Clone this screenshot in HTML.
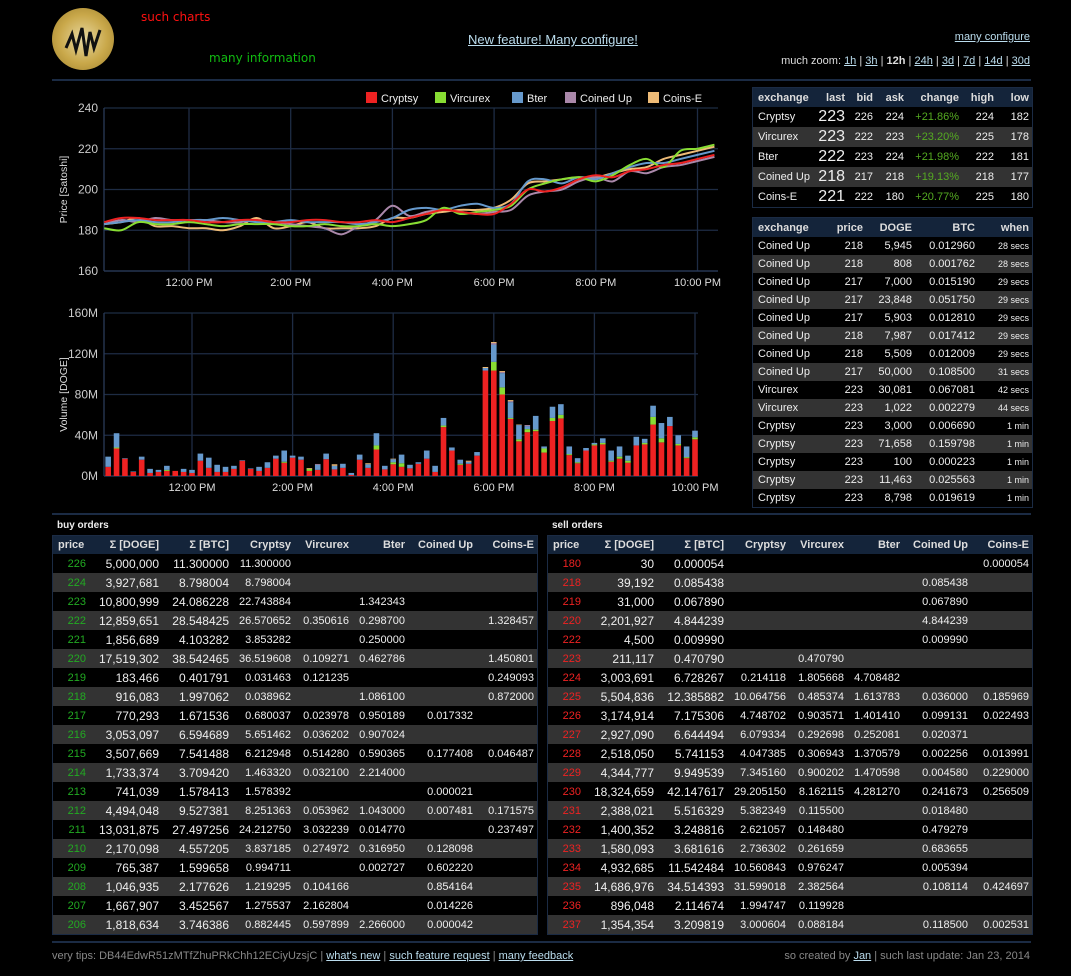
<!DOCTYPE html>
<html><head><meta charset="utf-8">
<style>
body{margin:0;background:#000;width:1071px;height:976px;overflow:hidden;position:relative;font-family:"Liberation Sans",Arial,sans-serif;color:#eee}
a{color:#bde;text-decoration:underline}
.abs{position:absolute}
.hr{position:absolute;left:52px;width:979px;height:2px;background:#1b2b44}
table{border-collapse:collapse;table-layout:fixed;font-size:11px}
td,th{padding:0 3px;white-space:nowrap;overflow:hidden;text-align:right}
th{background:#14243a;color:#ddd;font-weight:bold}
tr.alt td{background:#333}
.ot{position:absolute;border:1px solid #1b2b44;top:535px}
.ot th{height:18px}
.ot td{height:19px;padding:0 3px}
.rt{position:absolute;left:752px;border:1px solid #1b2b44;width:279px}
</style></head><body>

<div class="abs" style="left:52px;top:8px;width:62px;height:62px;border-radius:50%;background:radial-gradient(circle,#e8d8a0 0,#c9a84a 55%,#9c7d2a 100%)">
<svg width="62" height="62"><path d="M14 40 L20 26 L24 42 L30 20 L34 48 L38 24 L42 40 L48 22" stroke="#111" stroke-width="3" fill="none"/></svg></div>
<div class="abs" style="left:141px;top:10px;color:#f11;font-size:12px;font-family:'DejaVu Sans',sans-serif">such charts</div>
<div class="abs" style="left:209px;top:51px;color:#1b1;font-size:12px;font-family:'DejaVu Sans',sans-serif">many information</div>
<a class="abs" style="left:468px;top:32px;font-size:13px">New feature! Many configure!</a>
<a class="abs" style="right:41px;top:31px;font-size:11px">many configure</a>
<div class="abs" style="right:41px;top:55px;font-size:11px;color:#ddd">much zoom: <a>1h</a> | <a>3h</a> | <b>12h</b> | <a>24h</a> | <a>3d</a> | <a>7d</a> | <a>14d</a> | <a>30d</a></div>
<div class="hr" style="top:79px"></div>
<div class="hr" style="top:513px"></div>
<div class="hr" style="top:941px"></div>

<svg id="charts" class="abs" style="left:0;top:0" width="740" height="510" font-family="Liberation Sans, Arial, sans-serif"></svg>

<table class="rt" style="top:87px" id="tickerT"></table>
<table class="rt" style="top:217px" id="tradesT"></table>

<div class="abs" style="left:57px;top:520px;font-size:10px;font-weight:bold">buy orders</div>
<div class="abs" style="left:552px;top:520px;font-size:10px;font-weight:bold">sell orders</div>
<table class="ot" id="buyT" style="left:52px;width:484px"></table>
<table class="ot" id="sellT" style="left:547px;width:484px"></table>

<div class="abs" style="left:52px;top:950px;font-size:11px;color:#888">very tips: DB44EdwR51zMTfZhuPRkChh12ECiyUzsjC | <a>what's new</a> | <a>such feature request</a> | <a>many feedback</a></div>
<div class="abs" style="right:41px;top:950px;font-size:11px;color:#888">so created by <a>Jan</a> | such last update: Jan 23, 2014</div>

<script>
// ---- chart data ----
const seriesNames=["Cryptsy","Vircurex","Bter","Coined Up","Coins-E"];
const seriesColors=["#ee2222","#88dd33","#6699cc","#aa88aa","#eebb77"];
const priceTicks=[160,180,200,220,240];
const volTicks=[0,40,80,120,160];
const timeTicks=[12,14,16,18,20,22];
const timeLabels=["12:00 PM","2:00 PM","4:00 PM","6:00 PM","8:00 PM","10:00 PM"];
const priceCryptsy=[184,186,186,185,185,185,184,184,185,185,184,184,185,185,184,184,185,184,186,188,190,189,188,188,193,200,199,201,205,207,206,209,210,212,213,215,217];
const priceVircurex=[181,180,184,183,183,184,183,182,183,183,183,182,182,183,182,182,183,182,183,185,191,188,189,190,192,200,203,205,206,204,207,212,215,211,219,220,222];
const priceBter=[183,184,185,184,184,185,185,186,185,184,184,185,184,184,184,183,184,186,190,191,190,192,193,191,193,204,205,203,206,205,208,211,213,213,215,217,219];
const priceCoinedUp=[183,185,184,186,185,185,185,184,184,185,184,183,182,181,178,182,185,192,187,189,190,189,188,189,190,197,199,200,204,206,204,209,208,211,212,214,216];
const priceCoinsE=[183,184,186,182,182,181,181,180,182,186,181,182,184,181,181,181,182,186,186,188,189,190,190,191,195,203,204,205,206,206,208,210,211,215,217,219,221];
const volCryptsy=[9,27,17,4,16,3,4,5,5,4,3,15,8,4,4,7,15,7,5,8,17,13,18,16,5,6,16.5,6.5,8,1,16,8,26,6.5,11.5,9,7.5,12,17,4,48,25,11,12,20,103.5,103.5,80,56,34,43,44,23,54,56.5,20.5,12.5,25,30,31,14,17,13,30,31,50.5,33,49,30,17.5,36];
const volVircurex=[0,1,0,0,0,0,0,1,0,0,0,0,0,0,0,0,0,0,0,0,0,1,0,0,2,0,0,0,0,0,0,0,4,0,2,3.5,0,0,0,0,1.5,0,1,0,0,0,8.5,7,1,2,3,1.5,4,3,3.5,1,1,0,1,1.5,1,2,2,0,1.5,7.5,4,0,1.5,1,2];
const volBter=[10,14,0.5,0.5,3,4,2,4,0,3,3,7,10,7,5,3,0.5,0.5,4,5.5,3,11,2,3,0,5,5.5,3.5,4,2,5,3.5,12,3.5,3,8.5,3.5,1.5,8,6,7.5,3,4,2,3.5,2.5,17,14,15.5,14,3,13.5,2,11,10.5,7.5,4,2.5,1.5,4.5,10,10,5,8.5,4,11,15,9,8.5,10.5,6.5];
const volCoinedUp=[0,0,0,0,0,0,0,0,0,0,0,0,0,0,0,0,0,0,0,0,0,0,0,0,0,0.8,0,0,0,0,0,0,0,0,0,0,0,0,0,0,0,0,0,0,0,0,1.5,1,1,0,1,0,0,0,0,0,0,0,0,0,0,0,0,0,0,0,0,0,0,0,0];
const volCoinsE=[0,0,0,0,0,0,0,0,0,0,0,0,0,0,0,0,0,0,0,0,0,0,0,0,0.8,0,0,1.5,0,0,0,1,0,0,0.5,0,0,0,0,0,0,0,0,1,0,1,1,1,1,0.5,0,0,0,0,0,0,0,0,0,0,0,0,0,0,0,0,0,0,0,0,0];

const NS="http://www.w3.org/2000/svg";
const svg=document.getElementById('charts');
function mk(tag,attrs,parent){const e=document.createElementNS(NS,tag);for(const k in attrs)e.setAttribute(k,attrs[k]);(parent||svg).appendChild(e);return e;}

// price axes
const pL=104,pR=718,pT=108,pB=271;
const px=h=>189+(h-12)*50.85;
const py=v=>pB-(v-160)/80*(pB-pT);
// volume axes
const vL=104,vR=698,vT=313,vB=476;
const vx=h=>192+(h-12)*50.3;
const vy=v=>vB-v/160*(vB-vT);

function grid(L,R,T,B,xf,yf,yt,fmt,title,nm){
  const g=mk('g',{});
  
  
  yt.forEach(t=>{
    mk('line',{x1:L,x2:R,y1:yf(t),y2:yf(t),stroke:'#1e2c44','stroke-width':1.3},g);
    const tx=mk('text',{x:L-6,y:yf(t)+4,'text-anchor':'end','font-size':12,fill:'#ccc'});
    tx.textContent=fmt(t);
    
    
  });
  timeTicks.forEach((t,i)=>{
    mk('line',{x1:xf(t),x2:xf(t),y1:T,y2:B,stroke:'#1e2c44','stroke-width':1.3},g);
    const tx=mk('text',{x:xf(t),y:B+15,'text-anchor':'middle','font-size':11,fill:'#ddd'});
    tx.textContent=timeLabels[i];
    
    
  });
  mk('line',{x1:L,x2:L,y1:T,y2:B,stroke:'#2a3a58','stroke-width':1.3},g);
  mk('line',{x1:L,x2:R,y1:B,y2:B,stroke:'#2a3a58','stroke-width':1.3},g);
  const yt2=mk('text',{x:0,y:0,transform:`translate(67,${(T+B)/2}) rotate(-90)`,'text-anchor':'middle','font-size':10.5,fill:'#ddd'});
  yt2.textContent=title;
  
  
}
grid(pL,pR,pT,pB,px,py,priceTicks,t=>t,'Price [Satoshi]','price');
grid(vL,vR,vT,vB,vx,vy,volTicks,t=>t+'M','Volume [DOGE]','volume');

// price lines (catmull-rom)
const priceSeries=[priceCryptsy,priceVircurex,priceBter,priceCoinedUp,priceCoinsE];
[4,3,2,1,0].forEach(s=>{
  const pts=priceSeries[s].map((v,i)=>[px(10+1/3+i/3),py(v)]);
  let d='M'+pts[0][0]+','+pts[0][1];
  for(let i=0;i<pts.length-1;i++){
    const p0=pts[Math.max(0,i-1)],p1=pts[i],p2=pts[i+1],p3=pts[Math.min(pts.length-1,i+2)];
    d+=` C${p1[0]+(p2[0]-p0[0])/6},${p1[1]+(p2[1]-p0[1])/6} ${p2[0]-(p3[0]-p1[0])/6},${p2[1]-(p3[1]-p1[1])/6} ${p2[0]},${p2[1]}`;
  }
  const p=mk('path',{d:d,fill:'none',stroke:seriesColors[s],'stroke-width':2});
  
  
});

// legend
const legX=[366,435,512,565,648];
seriesNames.forEach((n,i)=>{
  const r=mk('rect',{x:legX[i],y:92,width:11,height:11,fill:seriesColors[i]});
  
  
  const t=mk('text',{x:legX[i]+15,y:102,'font-size':11,fill:'#eee'});
  t.textContent=n;
  
  
});

// volume bars
const volSeries=[volCryptsy,volVircurex,volBter,volCoinedUp,volCoinsE];
volCryptsy.forEach((_,i)=>{
  const cx=vx(10+1/3+i/6);
  let base=0;
  volSeries.forEach((arr,s)=>{
    const v=arr[i]; if(!v)return;
    const r=mk('rect',{x:cx-2.8,y:vy(base+v),width:5.6,height:vy(base)-vy(base+v),fill:seriesColors[s]});
    
    
    base+=v;
  });
});

// ---- tables ----
function build(id,head,rows,opts){
  const t=document.getElementById(id);
  let h='<tr>'+head.map((c,i)=>`<th style="width:${opts.w[i]-(i==0?8:6)}px;${i==0?'text-align:left;padding-left:5px':''}">${c}</th>`).join('')+'</tr>';
  rows.forEach((r,ri)=>{
    const c=r.split('|');
    h+=`<tr class="${ri%2?'alt':''}">`+c.map((v,i)=>{
      let st='';
      if(i==0)st='text-align:'+(opts.firstLeft?'left;padding-left:5px':'right')+(opts.pc?';color:'+opts.pc:'');
      if(opts.style&&opts.style[i])st+=';'+opts.style[i];
      return `<td style="${st}">${v}</td>`;}).join('')+'</tr>';
  });
  t.innerHTML=h;
  t.querySelectorAll('tr').forEach((tr,i)=>{
    
    
  });
}
build('tickerT',['exchange','last','bid','ask','change','high','low'],[
'Cryptsy|223|226|224|+21.86%|224|182','Vircurex|223|222|223|+23.20%|225|178','Bter|222|223|224|+21.98%|222|181','Coined Up|218|217|218|+19.13%|218|177','Coins-E|221|222|180|+20.77%|225|180'],
{firstLeft:1,w:[62,33,28,31,55,35,35],style:{1:'font-size:16px',4:'color:#55aa22'}});
document.querySelectorAll('#tickerT td').forEach(td=>td.style.height='20px');
document.querySelectorAll('#tickerT th').forEach(th=>th.style.height='19px');
build('tradesT',['exchange','price','DOGE','BTC','when'],[
'Coined Up|218|5,945|0.012960|28 secs','Coined Up|218|808|0.001762|28 secs','Coined Up|217|7,000|0.015190|29 secs','Coined Up|217|23,848|0.051750|29 secs','Coined Up|217|5,903|0.012810|29 secs','Coined Up|218|7,987|0.017412|29 secs','Coined Up|218|5,509|0.012009|29 secs','Coined Up|217|50,000|0.108500|31 secs','Vircurex|223|30,081|0.067081|42 secs','Vircurex|223|1,022|0.002279|44 secs','Cryptsy|223|3,000|0.006690|1 min','Cryptsy|223|71,658|0.159798|1 min','Cryptsy|223|100|0.000223|1 min','Cryptsy|223|11,463|0.025563|1 min','Cryptsy|223|8,798|0.019619|1 min'],
{firstLeft:1,w:[68,45,49,63,54],style:{4:'font-size:9px'}});
document.querySelectorAll('#tradesT td').forEach(td=>td.style.height='18px');
document.querySelectorAll('#tradesT th').forEach(th=>th.style.height='19px');

const ow=[36,73,70,62,58,56,68,61];
const oh=['price','Σ [DOGE]','Σ [BTC]','Cryptsy','Vircurex','Bter','Coined Up','Coins-E'];
build('buyT',oh,[
'226|5,000,000|11.300000|11.300000||||','224|3,927,681|8.798004|8.798004||||','223|10,800,999|24.086228|22.743884||1.342343||','222|12,859,651|28.548425|26.570652|0.350616|0.298700||1.328457','221|1,856,689|4.103282|3.853282||0.250000||','220|17,519,302|38.542465|36.519608|0.109271|0.462786||1.450801','219|183,466|0.401791|0.031463|0.121235|||0.249093','218|916,083|1.997062|0.038962||1.086100||0.872000','217|770,293|1.671536|0.680037|0.023978|0.950189|0.017332|','216|3,053,097|6.594689|5.651462|0.036202|0.907024||','215|3,507,669|7.541488|6.212948|0.514280|0.590365|0.177408|0.046487','214|1,733,374|3.709420|1.463320|0.032100|2.214000||','213|741,039|1.578413|1.578392|||0.000021|','212|4,494,048|9.527381|8.251363|0.053962|1.043000|0.007481|0.171575','211|13,031,875|27.497256|24.212750|3.032239|0.014770||0.237497','210|2,170,098|4.557205|3.837185|0.274972|0.316950|0.128098|','209|765,387|1.599658|0.994711||0.002727|0.602220|','208|1,046,935|2.177626|1.219295|0.104166||0.854164|','207|1,667,907|3.452567|1.275537|2.162804||0.014226|','206|1,818,634|3.746386|0.882445|0.597899|2.266000|0.000042|'],
{w:ow,pc:'#22aa22',style:{1:'font-size:12px',2:'font-size:12px'}});
build('sellT',oh,[
'180|30|0.000054|||||0.000054','218|39,192|0.085438||||0.085438|','219|31,000|0.067890||||0.067890|','220|2,201,927|4.844239||||4.844239|','222|4,500|0.009990||||0.009990|','223|211,117|0.470790||0.470790|||','224|3,003,691|6.728267|0.214118|1.805668|4.708482||','225|5,504,836|12.385882|10.064756|0.485374|1.613783|0.036000|0.185969','226|3,174,914|7.175306|4.748702|0.903571|1.401410|0.099131|0.022493','227|2,927,090|6.644494|6.079334|0.292698|0.252081|0.020371|','228|2,518,050|5.741153|4.047385|0.306943|1.370579|0.002256|0.013991','229|4,344,777|9.949539|7.345160|0.900202|1.470598|0.004580|0.229000','230|18,324,659|42.147617|29.205150|8.162115|4.281270|0.241673|0.256509','231|2,388,021|5.516329|5.382349|0.115500||0.018480|','232|1,400,352|3.248816|2.621057|0.148480||0.479279|','233|1,580,093|3.681616|2.736302|0.261659||0.683655|','234|4,932,685|11.542484|10.560843|0.976247||0.005394|','235|14,686,976|34.514393|31.599018|2.382564||0.108114|0.424697','236|896,048|2.114674|1.994747|0.119928|||','237|1,354,354|3.209819|3.000604|0.088184||0.118500|0.002531'],
{w:ow,pc:'#ee2222',style:{1:'font-size:12px',2:'font-size:12px'}});
</script>
</body></html>
